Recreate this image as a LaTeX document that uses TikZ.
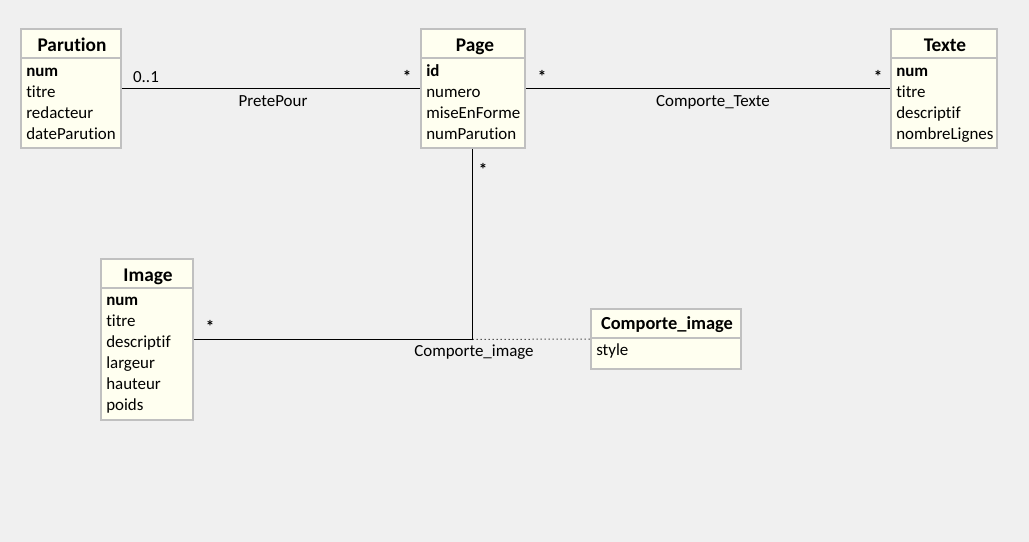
\documentclass[tikz,border=0pt]{standalone}
\usepackage{fontspec}
\setmainfont{Carlito}[Ligatures={NoCommon}]
\usepackage{xcolor}
\usepackage{tikz}
\usetikzlibrary{positioning}

\definecolor{bgGray}{HTML}{F0F0F0}
\definecolor{boxFill}{HTML}{FFFFF0}
\definecolor{boxLine}{HTML}{C0C0C0}

\begin{document}
\begin{tikzpicture}[
    x=0.75pt,y=-0.75pt,
    classbox/.style={rectangle,draw=boxLine,fill=boxFill,line width=1.5pt,inner sep=0pt},
    head/.style={anchor=base,inner sep=0pt,font=\fontsize{14.5}{16}\selectfont\bfseries},
    attr/.style={anchor=base west,inner sep=0pt,font=\fontsize{12.7}{14}\selectfont},
    key/.style={attr,font=\fontsize{12.7}{14}\selectfont\bfseries},
    sep/.style={draw=boxLine,line width=1.5pt},
    assoc/.style={draw=black,line width=0.75pt},
    linkdots/.style={draw=black,line width=0.75pt,dash pattern=on 0.75pt off 2.25pt},
    mult/.style={inner sep=0pt,font=\fontsize{12.7}{14}\selectfont\bfseries},
    rolename/.style={anchor=base,inner sep=0pt,font=\fontsize{12.7}{14}\selectfont}
]
\fill[bgGray] (0,0) rectangle (1029,542);

% classes
\node[classbox,minimum width=75pt,minimum height=89.25pt] (parution) at (71,88.5) {};
\node[head] (parutionH) at (72,51.5) {Parution};
\draw[sep] ([yshift=-22.5pt]parution.north west) -- ([yshift=-22.5pt]parution.north east);
\node[key] (parutionA1) at (26,76.5) {num};
\node[attr] (parutionA2) at (26,97.5) {titre};
\node[attr] (parutionA3) at (26,118.5) {redacteur};
\node[attr] (parutionA4) at (26,139.5) {dateParution};

\node[classbox,minimum width=78pt,minimum height=89.25pt] (page) at (473,88.5) {};
\node[head] (pageH) at (475,51.5) {Page};
\draw[sep] ([yshift=-22.5pt]page.north west) -- ([yshift=-22.5pt]page.north east);
\node[key] (pageA1) at (426,76.5) {id};
\node[attr] (pageA2) at (426,97.5) {numero};
\node[attr] (pageA3) at (426,118.5) {miseEnForme};
\node[attr] (pageA4) at (426,139.5) {numParution};

\node[classbox,minimum width=79.5pt,minimum height=89.25pt] (texte) at (944,88.5) {};
\node[head] (texteH) at (945,51.5) {Texte};
\draw[sep] ([yshift=-22.5pt]texte.north west) -- ([yshift=-22.5pt]texte.north east);
\node[key] (texteA1) at (896,76.5) {num};
\node[attr] (texteA2) at (896,97.5) {titre};
\node[attr] (texteA3) at (896,118.5) {descriptif};
\node[attr] (texteA4) at (896,139.5) {nombreLignes};

\node[classbox,minimum width=69pt,minimum height=120.75pt] (image) at (147,339.5) {};
\node[head] (imageH) at (148,281.5) {Image};
\draw[sep] ([yshift=-22.5pt]image.north west) -- ([yshift=-22.5pt]image.north east);
\node[key] (imageA1) at (106,305.5) {num};
\node[attr] (imageA2) at (106,326.5) {titre};
\node[attr] (imageA3) at (106,347.5) {descriptif};
\node[attr] (imageA4) at (106,368.5) {largeur};
\node[attr] (imageA5) at (106,389.5) {hauteur};
\node[attr] (imageA6) at (106,410.5) {poids};

\node[classbox,minimum width=112.5pt,minimum height=45pt] (cimg) at (666,339) {};
\node[head,font=\fontsize{13.8}{15}\selectfont\bfseries] (cimgH) at (667,329.5) {Comporte\_image};
\draw[sep] ([yshift=-22.5pt]cimg.north west) -- ([yshift=-22.5pt]cimg.north east);
\node[attr] (cimgA1) at (596,355.5) {style};

% associations
\draw[assoc] (parution) -- (page);
\draw[assoc] (page) -- (texte);
\coordinate (bend) at ([xshift=-0.375pt]page.south |- image.east);
\draw[assoc] ([xshift=-0.375pt]page.south) -- (bend) -- (image.east);
\draw[linkdots] (bend) -- (cimg.west);

\node[rolename] (m1) at (146,83) {0..1};
\node[mult] (m2) at (407,76) {*};
\node[rolename] (r1) at (273,107) {PretePour};
\node[mult] (m3) at (542,76) {*};
\node[mult] (m4) at (878,76) {*};
\node[rolename] (r2) at (713,107) {Comporte\_Texte};
\node[mult] (m5) at (483,169) {*};
\node[mult] (m6) at (210,326) {*};
\node[rolename] (r3) at (474,356.5) {Comporte\_image};
\end{tikzpicture}
\end{document}
